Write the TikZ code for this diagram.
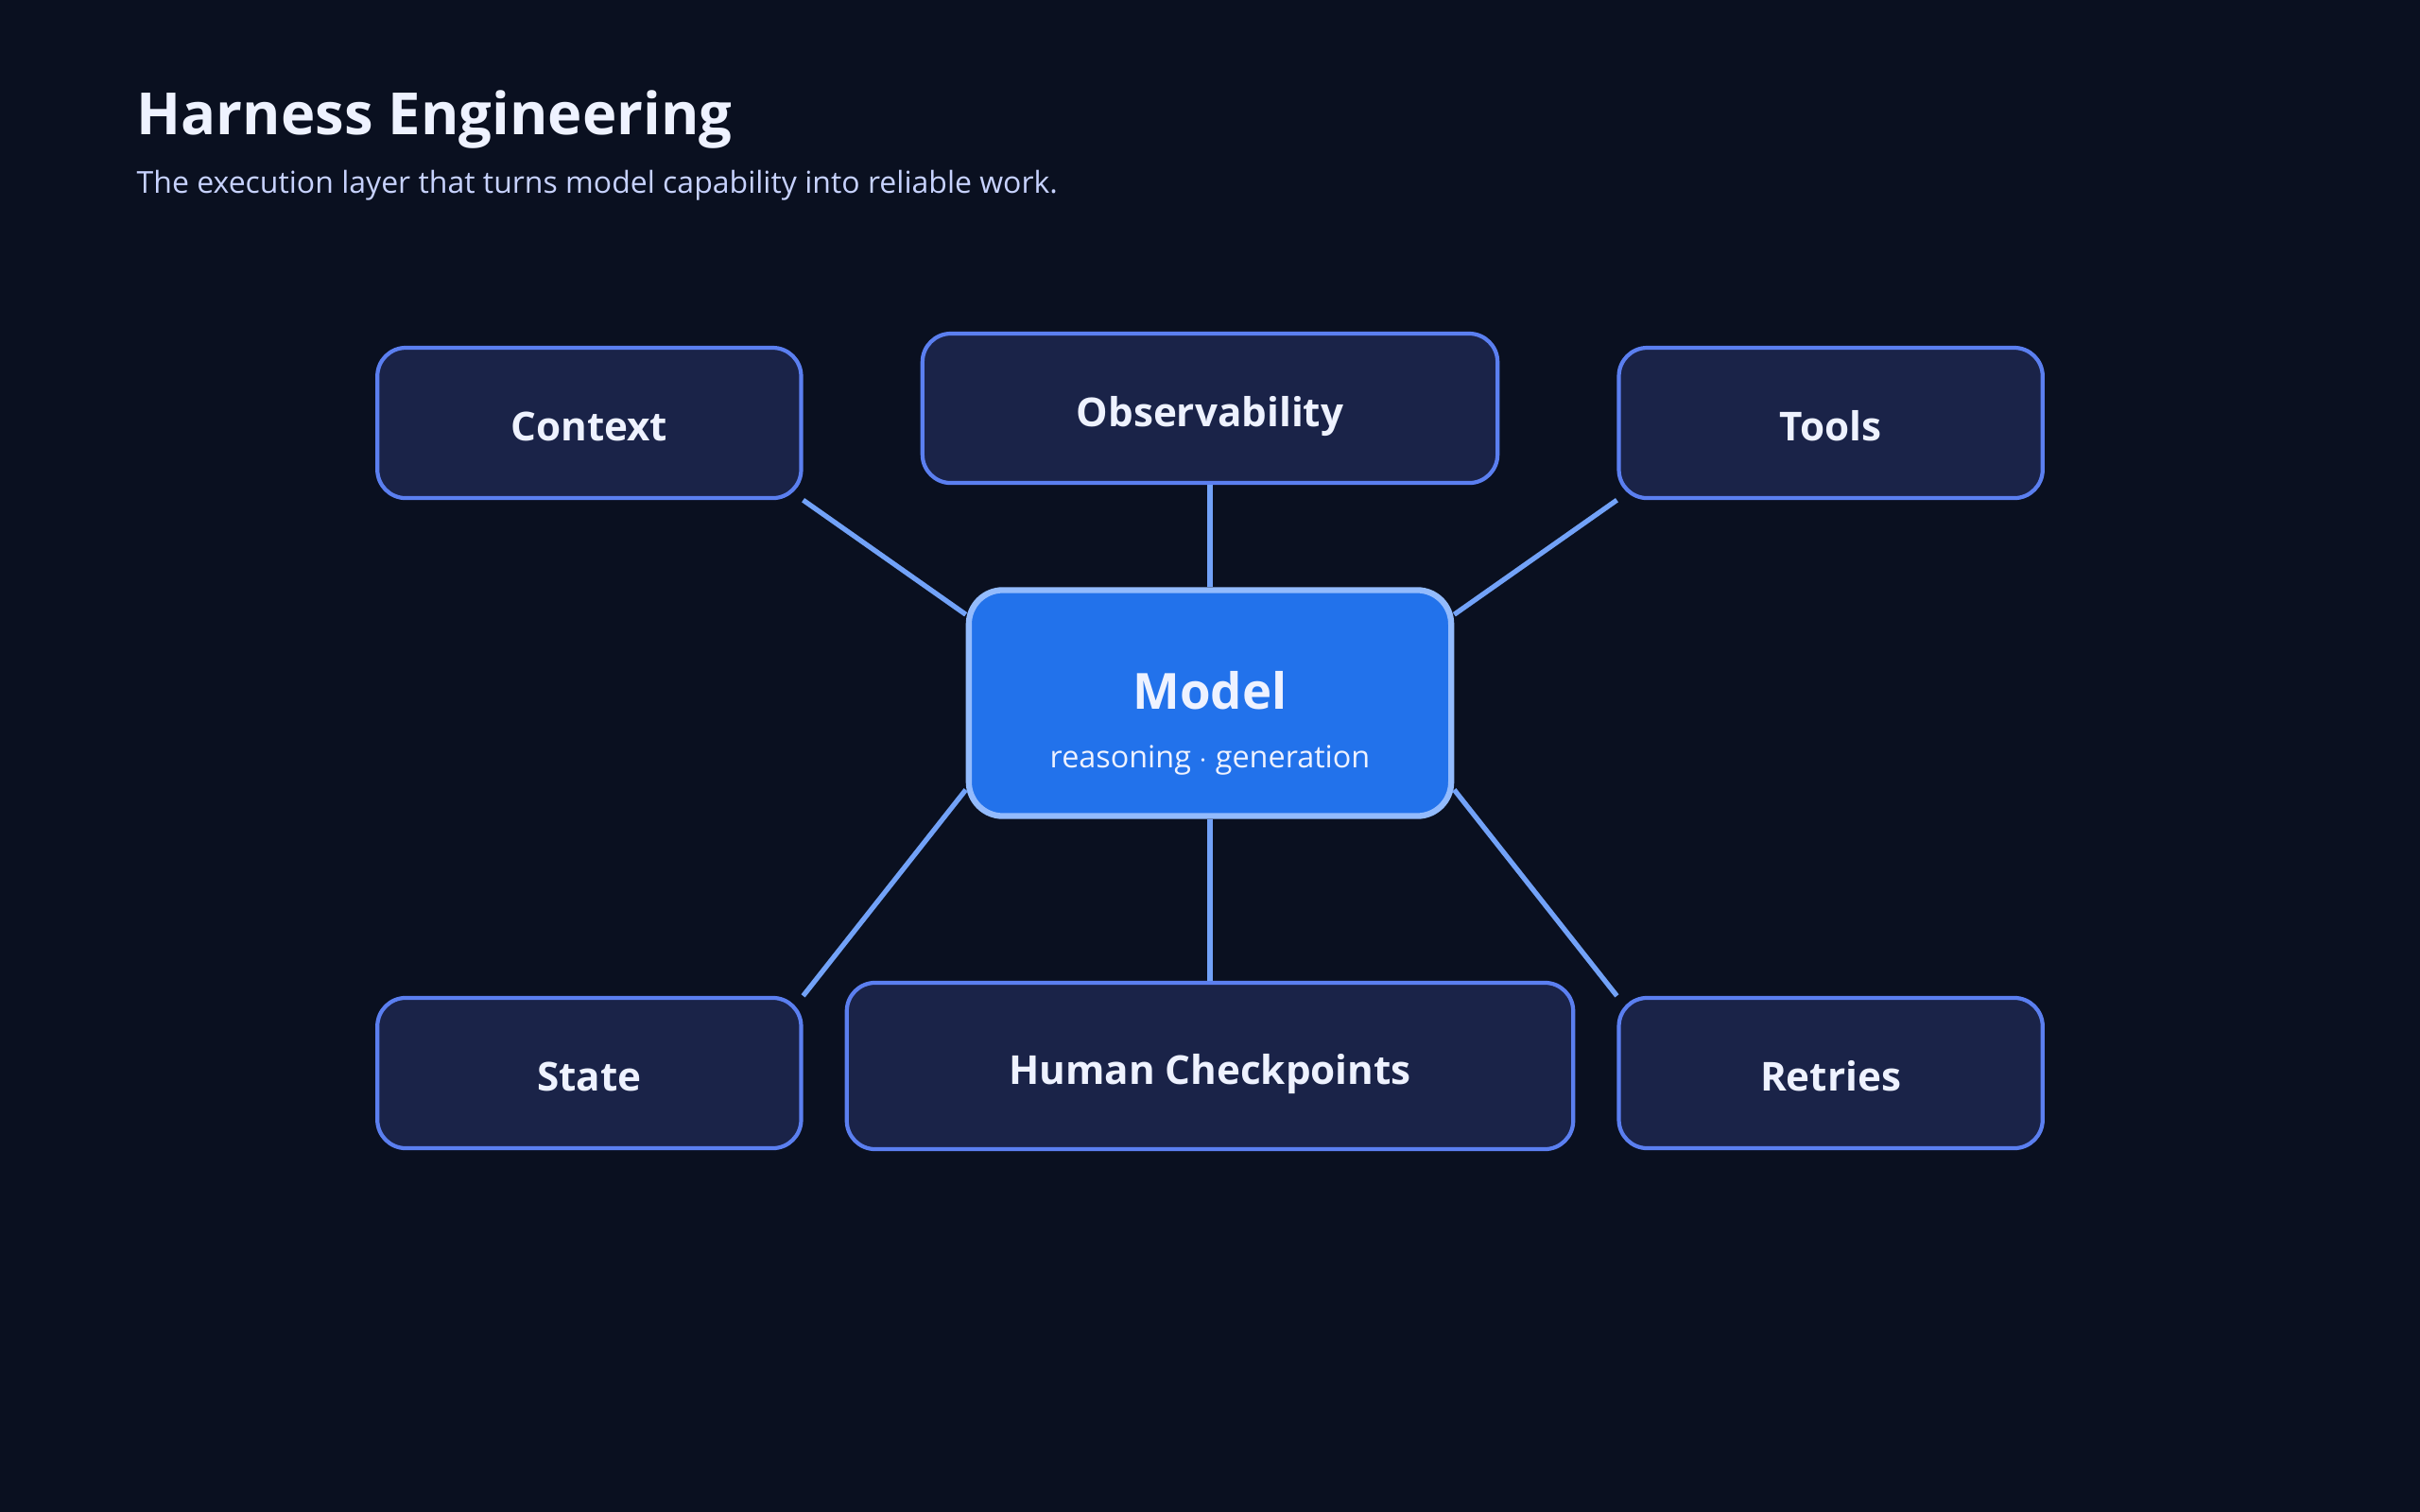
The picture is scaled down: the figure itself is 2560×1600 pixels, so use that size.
\documentclass[tikz,border=0pt]{standalone}
\usepackage{fontspec}
\setmainfont{Open Sans}
\usetikzlibrary{positioning}

\definecolor{bgnavy}{HTML}{0A1020}
\definecolor{boxfill}{HTML}{1A2348}
\definecolor{boxline}{HTML}{5B7FF0}
\definecolor{corefill}{HTML}{2272EB}
\definecolor{coreline}{HTML}{93BBFD}
\definecolor{linkblue}{HTML}{72A2F8}
\definecolor{textwhite}{HTML}{EEF2FF}
\definecolor{sublav}{HTML}{C7D2FE}

\begin{document}
\begin{tikzpicture}[
		x=0.01cm, y=-0.01cm,
		every node/.style={text=textwhite},
		box/.style={draw=boxline, fill=boxfill, line width=1.2pt,
			rounded corners=0.3cm, minimum width=4.48cm, minimum height=1.59cm,
			text height=2.05ex, text depth=0pt,
			align=center, font=\bfseries\fontsize{12}{14}\selectfont},
		core/.style={draw=coreline, fill=corefill, line width=1.8pt,
			rounded corners=0.36cm, minimum width=5.10cm, minimum height=2.39cm},
		link/.style={draw=linkblue, line width=1.5pt},
		]
		% --- canvas ---
		\fill[bgnavy] (0,0) rectangle (2560,1600);
		\useasboundingbox (0,0) rectangle (2560,1600);

		% --- heading ---
		\node[anchor=base west, inner sep=0pt,
		font=\bfseries\fontsize{17.5}{21}\selectfont] (title)
		at (144,143) {Harness Engineering};
		\node[anchor=base west, inner sep=0pt, text=sublav,
		font=\fontsize{9.1}{11}\selectfont] (subtitle)
		at (144,205) {The execution layer that turns model capability into reliable work.};

		% --- Model (centre) ---
		\node[core] (model) at (1280,744) {};
		\node[anchor=base, inner sep=0pt,
		font=\bfseries\fontsize{15}{18}\selectfont] (modelname)
		at (1280,750) {Model};
		\node[anchor=base, inner sep=0pt,
		font=\fontsize{9.2}{11}\selectfont] (modelrole)
		at (1280,812) {reasoning $\cdot$ generation};

		% --- upper row ---
		\node[box, minimum width=6.08cm, minimum height=1.58cm,
		above=1.08cm of model] (obs) {Observability};
		\node[box, above left=0.92cm and 1.72cm of model] (context) {Context};
		\node[box, above right=0.92cm and 1.72cm of model] (tools) {Tools};

		% --- lower row ---
		\node[box, minimum width=7.68cm, minimum height=1.76cm,
		below=1.71cm of model] (human) {Human Checkpoints};
		\node[box, below left=1.87cm and 1.72cm of model] (state) {State};
		\node[box, below right=1.87cm and 1.72cm of model] (retries) {Retries};

		% ---- LINKS ----
		\draw[link] (obs) -- (model);
		\draw[link] (context.south east) -- ([yshift=-0.29cm]model.north west);
		\draw[link] (tools.south west) -- ([yshift=-0.29cm]model.north east);
		\draw[link] (model) -- (human);
		\draw[link] (state.north east) -- ([yshift=0.31cm]model.south west);
		\draw[link] (retries.north west) -- ([yshift=0.31cm]model.south east);
	\end{tikzpicture}
\end{document}
